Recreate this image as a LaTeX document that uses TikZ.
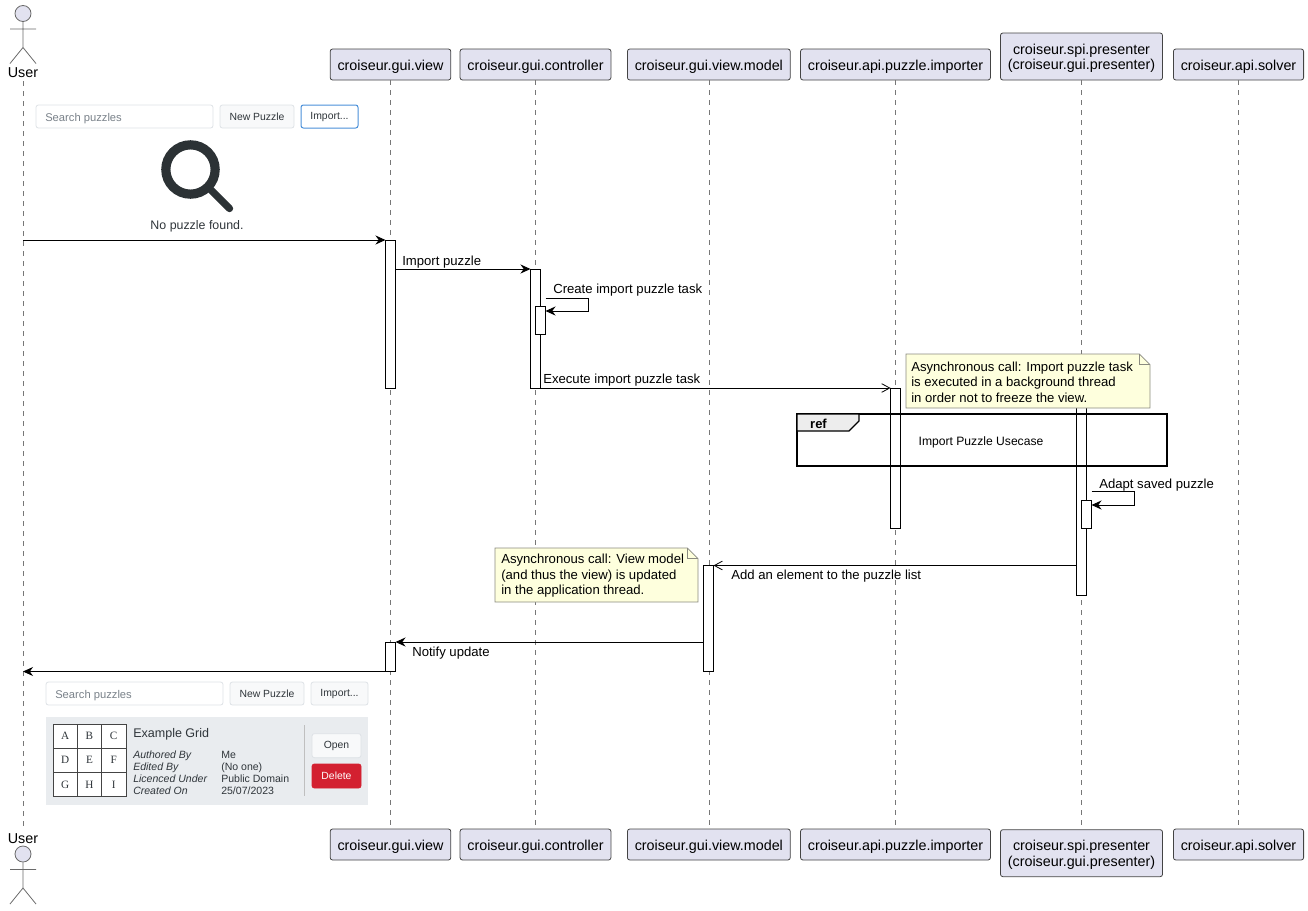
\documentclass[tikz,border=0pt]{standalone}
\usepackage{fontspec}
\setmainfont{Liberation Sans}
\newfontfamily\gridfont{Liberation Serif}
\usetikzlibrary{arrows.meta}
\definecolor{partfill}{HTML}{E2E2F0}
\definecolor{partline}{HTML}{444444}
\definecolor{stickline}{HTML}{6A6A6A}
\definecolor{lifegray}{HTML}{777777}
\definecolor{notefill}{HTML}{FEFFDD}
\definecolor{noteline}{HTML}{8A8A80}
\definecolor{uiline}{HTML}{DEE2E6}
\definecolor{uifill}{HTML}{F8F9FA}
\definecolor{uitext}{HTML}{2F353A}
\definecolor{uihint}{HTML}{7A828A}
\definecolor{uipanel}{HTML}{E9ECEF}
\definecolor{uiblue}{HTML}{4A90D9}
\definecolor{uired}{HTML}{D32030}
\definecolor{uidark}{HTML}{2C3235}
\begin{document}
\begin{tikzpicture}[x=0.75pt,y=-0.75pt,node distance=100pt,
    sized/.style 2 args={inner sep=0pt,outer sep=0pt,minimum width=#1*0.75pt,minimum height=#2*0.75pt},
    part node/.style={draw=partline,fill=partfill,line width=0.6pt,rounded corners=1.8pt,align=center,font=\fontsize{10.75}{11.8}\selectfont,inner xsep=5.5pt,inner ysep=0pt,text height=9.6pt,text depth=0.8pt,minimum height=23.25pt},
    tall node/.style={part node,text height=21pt,minimum height=35.25pt},
    head node/.style={circle,draw=stickline,fill=partfill,line width=0.6pt,inner sep=0pt,minimum size=12pt},
    stick/.pic={
        \node[head node] (-head) at (0,0) {};
        \draw[stickline,line width=0.6pt] (-head.south) -- (0,34) (-13,15.5) -- (13,15.5) (-13,50) -- (0,34) -- (13,50);
    },
    actor text/.style={font=\fontsize{10.75}{12}\selectfont},
    life line/.style={draw=lifegray,line width=0.5pt,dash pattern=on 3.75pt off 3.75pt},
    act bar/.style={draw=black,fill=white,line width=0.7pt,inner sep=0pt,outer sep=0pt,minimum width=7.5pt,minimum height=#1*0.75pt},
    call/.style={draw=black,line width=0.7pt,-{Stealth[length=7.5pt,width=6.75pt,inset=2.4pt]}},
    async call/.style={draw=black,line width=0.6pt,-{Straight Barb[length=6pt,width=6.5pt]}},
    msg text/.style={anchor=base west,inner sep=0pt,font=\fontsize{9.85}{11.7}\selectfont},
    note body/.style={draw=noteline,fill=notefill,line width=0.6pt},
    note text/.style={align=left,inner sep=0pt,font=\fontsize{9.85}{11.6}\selectfont},
    ui box/.style={draw=uiline,fill=uifill,line width=0.6pt,rounded corners=1.8pt,text=uitext,font=\fontsize{7.8}{9}\selectfont},
    ui text/.style={anchor=base west,inner sep=0pt,text=uitext,font=\fontsize{7.9}{9}\selectfont},
    grid cell/.style={sized={24.3}{24},draw=partline,fill=white,line width=0.5pt,text=uitext,font=\gridfont\fontsize{8.4}{10}\selectfont}]

    \useasboundingbox (0,0) rectangle (1308,910);

    \node[part node] (view) at (390.5,64.5) {croiseur.gui.view};
    \node[part node] (ctrl) [right of = view, xshift = 8.75pt] {croiseur.gui.controller};
    \node[part node] (model) [right of = ctrl, xshift = 30pt] {croiseur.gui.view.model};
    \node[part node] (imp) [right of = model, xshift = 40pt] {croiseur.api.puzzle.importer};
    \node[tall node] (pres) [right of = imp, xshift = 39.5pt, yshift = 6pt] {croiseur.spi.presenter\\(croiseur.gui.presenter)};
    \node[part node] (solver) [right of = pres, xshift = 17.75pt, yshift = -6pt] {croiseur.api.solver};

    \node[part node] (viewb) [below of = view, yshift = -485pt] {croiseur.gui.view};
    \node[part node] (ctrlb) [below of = ctrl, yshift = -485pt] {croiseur.gui.controller};
    \node[part node] (modelb) [below of = model, yshift = -485pt] {croiseur.gui.view.model};
    \node[part node] (impb) [below of = imp, yshift = -485pt] {croiseur.api.puzzle.importer};
    \node[tall node] (presb) [below of = pres, yshift = -497.5pt] {croiseur.spi.presenter\\(croiseur.gui.presenter)};
    \node[part node] (solverb) [below of = solver, yshift = -485pt] {croiseur.api.solver};

    \pic (user) at (23,13.5) {stick};
    \pic (userb) at (23,854) {stick};
    \node[actor text] (usertext) at (23,72.5) {User};
    \node[actor text] (userbtext) at (23,838.5) {User};
    \coordinate (userline) at (23,81);
    \coordinate (userlineb) at (23,829);

    \path[every edge/.style={life line}]
        (userline) edge (userlineb)
        (view) edge (viewb)
        (ctrl) edge (ctrlb)
        (model) edge (modelb)
        (imp) edge (impb)
        (pres) edge (presb)
        (solver) edge (solverb)
    ;

    \node[act bar=148] (viewbar) at (390.5,314) {};
    \node[act bar=119] (ctrlbar) at (535.5,328.5) {};
    \node[act bar=28] (taskbar) at (540.5,320) {};
    \node[act bar=140] (impbar) at (895.5,458) {};
    \node[act bar=207] (presbar) at (1081.5,491.5) {};
    \node[act bar=28] (adaptbar) at (1086.5,514) {};
    \node[act bar=106] (modelbar) at (708.5,618.5) {};
    \node[act bar=29.5] (view2bar) at (390.5,656.75) {};

    \path[every edge/.style={call}]
        (userline |- viewbar.north) edge (viewbar.north west)
        (viewbar.east |- ctrlbar.north) edge (ctrlbar.north west)
        (modelbar.west |- view2bar.north) edge (view2bar.north east)
        (view2bar.south west) edge (userline |- view2bar.south)
    ;
    \path[every edge/.style={async call}]
        (ctrlbar.south east) edge (impbar.north west)
        (presbar.west |- modelbar.north) edge (modelbar.north east)
    ;
    \draw[call] ([yshift=6pt]taskbar.north east) -- ++(42.5,0) -- ++(0,13) -- ([yshift=-3.75pt]taskbar.north east);
    \draw[call] ([yshift=6.75pt]adaptbar.north east) -- ++(42.5,0) -- ++(0,14) -- ([yshift=-3.75pt]adaptbar.north east);

    \node[msg text] (importmsg) at (402,265) {Import puzzle};
    \node[msg text] (taskmsg) at (553,293) {Create import puzzle task};
    \node[msg text] (execmsg) at (543,383) {Execute import puzzle task};
    \node[msg text] (adaptmsg) at (1099,488) {Adapt saved puzzle};
    \node[msg text] (addmsg) at (731,579) {Add an element to the puzzle list};
    \node[msg text] (notifymsg) at (412,656) {Notify update};

    \node[sized={370}{52},draw=black,line width=0.85pt] (refbox) at (982,440) {};
    \draw[black,fill=black!7,line width=0.85pt] (refbox.north west) -- ([xshift=46.5pt]refbox.north west) -- ([xshift=46.5pt,yshift=-5.25pt]refbox.north west) -- ([xshift=39pt,yshift=-12.75pt]refbox.north west) -- ([yshift=-12.75pt]refbox.north west) -- cycle;
    \node[inner sep=0pt,font=\bfseries\fontsize{9.75}{11.7}\selectfont] (reftext) at (818.5,423.5) {ref};
    \node[inner sep=0pt,font=\fontsize{9.1}{10}\selectfont] (refname) at (981,442.5) {Import Puzzle Usecase};

    \node[sized={244}{54}] (asyncnote) at (1028,381) {};
    \draw[note body] (asyncnote.south west) -- (asyncnote.north west) -- ([xshift=-8pt]asyncnote.north east) -- ([yshift=-8pt]asyncnote.north east) -- (asyncnote.south east) -- cycle;
    \draw[noteline,line width=0.6pt] ([xshift=-8pt]asyncnote.north east) |- ([yshift=-8pt]asyncnote.north east);
    \node[note text,anchor=west] (asynctext) at (911,382) {Asynchronous call: Import puzzle task\\is executed in a background thread\\in order not to freeze the view.};

    \node[sized={203}{54}] (modelnote) at (596.5,575) {};
    \draw[note body] (modelnote.south west) -- (modelnote.north west) -- ([xshift=-8pt]modelnote.north east) -- ([yshift=-8pt]modelnote.north east) -- (modelnote.south east) -- cycle;
    \draw[noteline,line width=0.6pt] ([xshift=-8pt]modelnote.north east) |- ([yshift=-8pt]modelnote.north east);
    \node[note text,anchor=west] (modeltext) at (501,576) {Asynchronous call: View model\\(and thus the view) is updated\\in the application thread.};

    \node[ui box,sized={177}{23},fill=white] (search) at (124.5,116.5) {};
    \node[ui text,text=uihint,font=\fontsize{8.4}{10}\selectfont] (searchtext) at (45,121) {Search puzzles};
    \node[ui box,sized={74}{23}] (newbtn) at (257,116.5) {New Puzzle};
    \node[ui box,sized={57}{23},draw=uiblue,fill=white,line width=0.75pt] (importbtn) at (329.5,116.5) {Import...};

    \node[circle,draw=uidark,line width=6.9pt,inner sep=0pt,outer sep=0pt,minimum size=37pt] (lens) at (190.5,169.5) {};
    \coordinate (lensend) at (229.5,208.5);
    \draw[uidark,line width=5.5pt,line cap=round] (lens.-45) -- (lensend);
    \node[text=uitext,inner sep=0pt,font=\fontsize{9.3}{11}\selectfont] (nopuzzle) at (197,226.5) {No puzzle found.};

    \node[ui box,sized={177}{23},fill=white] (search2) at (134.5,693.5) {};
    \node[ui text,text=uihint,font=\fontsize{8.4}{10}\selectfont] (search2text) at (55,698) {Search puzzles};
    \node[ui box,sized={74}{23}] (newbtn2) at (267,693.5) {New Puzzle};
    \node[ui box,sized={57}{23}] (importbtn2) at (339.5,693.5) {Import...};

    \node[sized={322}{88},fill=uipanel] (panel) at (207,761) {};
    \begin{scope}[node distance=18.2pt]
        \node[grid cell] (a) at (65.2,736) {A};
        \node[grid cell] (b) [right of = a] {B};
        \node[grid cell] (c) [right of = b] {C};
        \node[grid cell] (d) [below of = a] {D};
        \node[grid cell] (e) [right of = d] {E};
        \node[grid cell] (f) [right of = e] {F};
        \node[grid cell] (g) [below of = d] {G};
        \node[grid cell] (h) [right of = g] {H};
        \node[grid cell] (i) [right of = h] {I};
    \end{scope}

    \node[ui text,font=\fontsize{9.4}{11}\selectfont] (gridname) at (133,737) {Example Grid};
    \node[ui text,font=\itshape\fontsize{7.9}{9}\selectfont] (lab1) at (133,758) {Authored By};
    \node[ui text,font=\itshape\fontsize{7.9}{9}\selectfont] (lab2) at (133,770) {Edited By};
    \node[ui text,font=\itshape\fontsize{7.9}{9}\selectfont] (lab3) at (133,782) {Licenced Under};
    \node[ui text,font=\itshape\fontsize{7.9}{9}\selectfont] (lab4) at (133,794) {Created On};
    \node[ui text] (val1) at (221,758) {Me};
    \node[ui text] (val2) at (221,770) {(No one)};
    \node[ui text] (val3) at (221,782) {Public Domain};
    \node[ui text] (val4) at (221,794) {25/07/2023};
    \coordinate (ruletop) at (304.5,725);
    \coordinate (rulebot) at (304.5,796);
    \draw[black!25,line width=0.5pt] (ruletop) -- (rulebot);
    \node[ui box,sized={49}{24},yshift=-0.5pt] (openbtn) at (336.5,745) {Open};
    \node[ui box,sized={49}{24},draw=uired,fill=uired,text=white] (delbtn) at (336.5,776) {Delete};
\end{tikzpicture}
\end{document}
